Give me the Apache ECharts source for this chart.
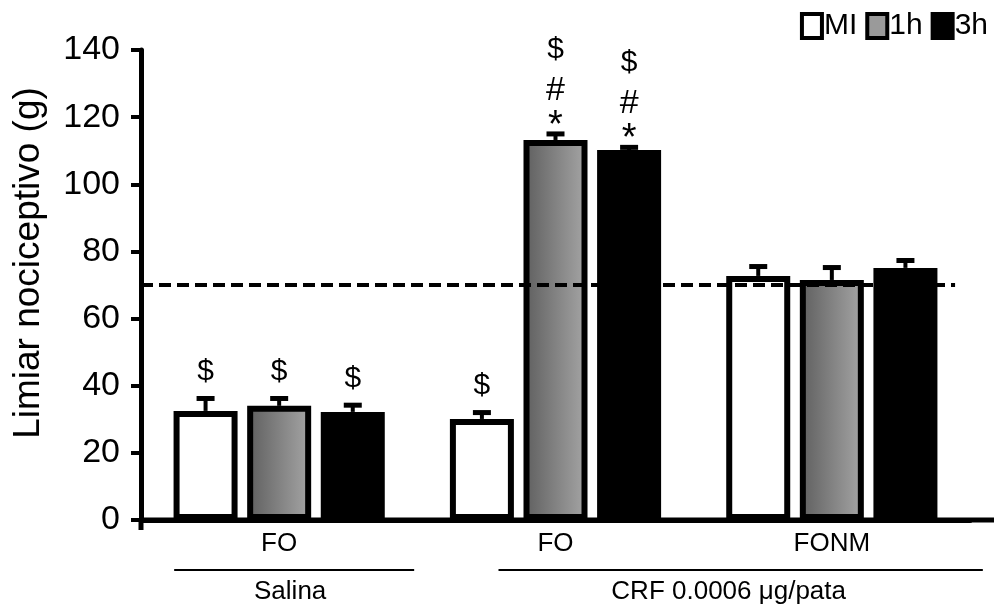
<!DOCTYPE html>
<html>
<head>
<meta charset="utf-8">
<script src="https://cdn.jsdelivr.net/npm/echarts@6/dist/echarts.min.js"></script>
<style>
  html, body { margin: 0; padding: 0; background: #ffffff; }
  #chart { width: 994px; height: 608px; }
</style>
</head>
<body>
<div id="chart"></div>
<script>
// Nociceptive threshold (g), mean with upper SEM, per group and time point
const categories = ['FO', 'FO', 'FONM'];
const seriesNames = ['MI', '1h', '3h'];

const meanMI = [32.5, 30.1, 72.7];
const mean1h = [34.0, 113.2, 71.5];
const mean3h = [32.2, 110.2, 75.1];

const errTopMI = [36.2, 32.0, 75.5];
const errTop1h = [36.2, 115.0, 75.2];
const errTop3h = [34.2, 111.0, 77.3];

// significance symbols, listed from the bar upwards
const marksMI = ['$', '$', ''];
const marks1h = ['$', '*#$', ''];
const marks3h = ['$', '*#$', ''];

const yTickValues = [0, 20, 40, 60, 80, 100, 120, 140];
const baselineValue = 70;
const treatmentLabels = ['Salina', 'CRF 0.0006 μg/pata'];
const yTitle = 'Limiar nociceptivo (g)';

const FONT = '"Liberation Sans", Arial, Helvetica, sans-serif';
const BAR_W = 64;
const BAR_GAP = 0.15;
const BAR_STEP = BAR_W * (1 + BAR_GAP);

const chart = echarts.init(document.getElementById('chart'), null, { renderer: 'canvas' });

const grayFill = new echarts.graphic.LinearGradient(0, 0, 1, 0, [
  { offset: 0, color: '#5e5e5e' },
  { offset: 1, color: '#a6a6a6' }
]);

const barStyles = [
  { color: '#ffffff', borderColor: '#000000', borderWidth: 6 },
  { color: grayFill, borderColor: '#000000', borderWidth: 6 },
  { color: '#000000', borderColor: '#000000', borderWidth: 6 }
];

const means = [meanMI, mean1h, mean3h];
const errTops = [errTopMI, errTop1h, errTop3h];
const marks = [marksMI, marks1h, marks3h];

// vertical centre offsets of the symbols above the error cap, and their sizes
const firstOffset = { '*': 12, '$': 24, '#': 20 };
const nextStep = { '#': 29, '$': 41, '*': 26 };
const glyphFont = { '*': '38px ', '$': '30px ', '#': '34px ' };

function errorRenderer(k) {
  return function (params, api) {
    const cat = api.value(0);
    const base = api.coord([cat, api.value(1)]);
    const top = api.coord([cat, api.value(2)]);
    const x = base[0] + (k - 1) * BAR_STEP;
    const capTop = top[1] - 2.5;
    const children = [
      { type: 'line', shape: { x1: x, y1: base[1], x2: x, y2: top[1] },
        style: { stroke: '#000', lineWidth: 4 } },
      { type: 'line', shape: { x1: x - 9, y1: top[1], x2: x + 9, y2: top[1] },
        style: { stroke: '#000', lineWidth: 5 } }
    ];
    const sym = marks[k][params.dataIndex] || '';
    let off = 0;
    for (let i = 0; i < sym.length; i++) {
      const g = sym[i];
      off = i === 0 ? firstOffset[g] : off + nextStep[g];
      children.push({
        type: 'text',
        style: {
          text: g, x: x, y: capTop - off + (g === '*' ? 7 : 0),
          align: 'center', verticalAlign: 'middle',
          font: glyphFont[g] + FONT,
          fill: '#000'
        }
      });
    }
    return { type: 'group', children: children };
  };
}

const series = [];
for (let k = 0; k < 3; k++) {
  series.push({
    name: seriesNames[k],
    type: 'bar',
    xAxisIndex: 0,
    barWidth: BAR_W,
    barGap: (BAR_GAP * 100) + '%',
    itemStyle: barStyles[k],
    emphasis: { disabled: true },
    data: means[k],
    z: 2
  });
}
for (let k = 0; k < 3; k++) {
  series.push({
    type: 'custom',
    xAxisIndex: 0,
    renderItem: errorRenderer(k),
    data: categories.map((c, i) => [i, means[k][i], errTops[k][i]]),
    z: 3,
    silent: true
  });
}
// dashed reference line at the baseline threshold
series.push({
  type: 'line',
  xAxisIndex: 1,
  data: [[0, baselineValue], [0.982, baselineValue]],
  symbol: 'none',
  lineStyle: { color: '#000', width: 4, type: [12, 6] },
  silent: true,
  z: 4
});

const gridLeft = 141, gridTop = 50, gridRight = 970, gridBottom = 520;

chart.setOption({
  animation: false,
  backgroundColor: '#ffffff',
  textStyle: { fontFamily: FONT },
  grid: {
    left: gridLeft, top: gridTop, width: gridRight - gridLeft, height: gridBottom - gridTop,
    containLabel: false, outerBoundsMode: 'none'
  },
  legend: {
    right: 6, top: 11,
    icon: 'rect',
    itemWidth: 20, itemHeight: 24, itemGap: 8,
    padding: 0,
    textStyle: { fontSize: 30, color: '#000', fontFamily: FONT, padding: [0, 0, 0, -3] },
    selectedMode: false,
    data: [
      { name: 'MI', itemStyle: { color: '#ffffff', borderColor: '#000', borderWidth: 4 } },
      { name: '1h', itemStyle: { color: '#9a9a9a', borderColor: '#000', borderWidth: 4 } },
      { name: '3h', itemStyle: { color: '#000000', borderColor: '#000', borderWidth: 4 } }
    ]
  },
  xAxis: [
    {
      type: 'category',
      data: categories,
      axisLine: { show: true, lineStyle: { color: '#000', width: 5 } },
      axisTick: { show: false },
      axisLabel: { color: '#000', fontSize: 26, margin: 11, fontFamily: FONT },
      splitLine: { show: false }
    },
    {
      type: 'value', min: 0, max: 1, show: false
    }
  ],
  yAxis: {
    type: 'value',
    min: yTickValues[0],
    max: yTickValues[yTickValues.length - 1],
    interval: yTickValues[1] - yTickValues[0],
    axisLine: { show: true, lineStyle: { color: '#000', width: 5 } },
    axisTick: { show: true, length: 10, lineStyle: { color: '#000', width: 4 } },
    axisLabel: { color: '#000', fontSize: 34, margin: 21, fontFamily: FONT },
    splitLine: { show: false }
  },
  series: series
});

// axis extensions, treatment brackets and the y title
const y0 = chart.convertToPixel({ yAxisIndex: 0 }, 0);
const c0 = chart.convertToPixel({ xAxisIndex: 0 }, 0);
const c1 = chart.convertToPixel({ xAxisIndex: 0 }, 1);
const c2 = chart.convertToPixel({ xAxisIndex: 0 }, 2);
const yMid = (chart.convertToPixel({ yAxisIndex: 0 }, yTickValues[yTickValues.length - 1]) + y0) / 2;
const bracketY = 570;
const bracketTextY = 592;
const salinaL = c0 - 105, salinaR = c0 + 135;
const crfL = c1 - 57, crfR = c2 + 151;

chart.setOption({
  graphic: [
    { type: 'line', shape: { x1: gridLeft - 2, y1: y0, x2: 994, y2: y0 },
      style: { stroke: '#000', lineWidth: 5 }, silent: true, z: 10 },
    { type: 'line', shape: { x1: gridLeft, y1: y0, x2: gridLeft, y2: y0 + 10 },
      style: { stroke: '#000', lineWidth: 5 }, silent: true, z: 10 },
    { type: 'line', shape: { x1: salinaL, y1: bracketY, x2: salinaR, y2: bracketY },
      style: { stroke: '#000', lineWidth: 2 }, silent: true },
    { type: 'line', shape: { x1: crfL, y1: bracketY, x2: crfR, y2: bracketY },
      style: { stroke: '#000', lineWidth: 2 }, silent: true },
    { type: 'text', x: (salinaL + salinaR) / 2 - 4, y: bracketTextY,
      style: { text: treatmentLabels[0], font: '26px ' + FONT, fill: '#000',
               align: 'center', verticalAlign: 'middle' }, silent: true },
    { type: 'text', x: (crfL + crfR) / 2 - 12, y: bracketTextY,
      style: { text: treatmentLabels[1], font: '26px ' + FONT, fill: '#000',
               align: 'center', verticalAlign: 'middle' }, silent: true },
    { type: 'text', x: 29, y: yMid - 22, rotation: Math.PI / 2,
      style: { text: yTitle, font: '37px ' + FONT, fill: '#000',
               align: 'center', verticalAlign: 'middle' }, silent: true }
  ]
});
</script>
</body>
</html>
